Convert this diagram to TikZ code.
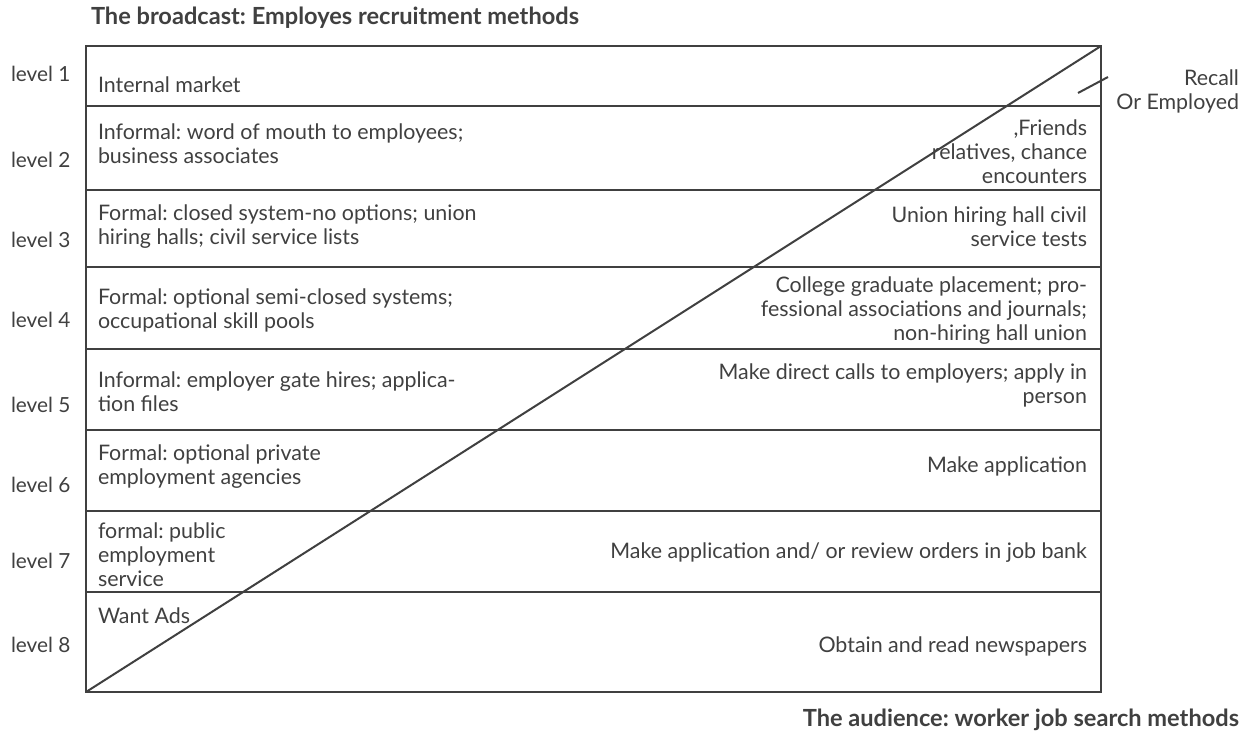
\documentclass[tikz,border=0pt]{standalone}
\usepackage{fontspec}
\setmainfont{Lato}
\definecolor{ink}{HTML}{404040}
\tikzset{
  lvl/.style={anchor=west, inner sep=0pt, font=\fontsize{10.4}{12}\selectfont},
  lefttxt/.style={anchor=west, align=left, inner sep=0pt, font=\fontsize{10.7}{12}\selectfont},
  righttxt/.style={anchor=east, align=right, inner sep=0pt, font=\fontsize{10.7}{12}\selectfont},
  heading/.style={inner sep=0pt, font=\bfseries\fontsize{11.8}{12}\selectfont}
}
\begin{document}
\frenchspacing
\begin{tikzpicture}
    [x=0.5pt,y=-0.5pt,color=ink,line width=1pt]
    \useasboundingbox (0,0) rectangle (1253,735);

    % headings:
    \node (top) at (90,18) [heading,anchor=west] {The broadcast: Employes recruitment methods};
    \node (bottom) at (1240,720) [heading,anchor=east] {The audience: worker job search methods};

    % box and rows:
    \coordinate (bl) at (86,692);
    \coordinate (tr) at (1101,46);
    \draw (86,46) rectangle (1101,692);
    \foreach \y in {106,190,267,349,430,511,592}
      \draw (86,\y) -- (1101,\y);
    \draw (bl) -- (tr);

    % levels:
    \node (l1) at (10,74) [lvl] {level 1};
    \node (l2) at (10,160) [lvl] {level 2};
    \node (l3) at (10,240) [lvl] {level 3};
    \node (l4) at (10,320) [lvl] {level 4};
    \node (l5) at (10,405) [lvl] {level 5};
    \node (l6) at (10,485) [lvl] {level 6};
    \node (l7) at (10,561) [lvl] {level 7};
    \node (l8) at (10,645) [lvl] {level 8};

    % recruitment methods:
    \node (e1) at (97,85) [lefttxt] {Internal market};
    \node (e2) at (97,144) [lefttxt] {Informal: word of mouth to employees;\\business associates};
    \node (e3) at (97,227) [lefttxt] {Formal: closed system-no options; union\\hiring halls; civil service lists};
    \node (e4) at (97,310) [lefttxt] {Formal: optional semi-closed systems;\\occupational skill pools};
    \node (e5) at (97,392) [lefttxt] {Informal: employer gate hires; applica-\\tion files};
    \node (e6) at (97,467) [lefttxt] {Formal: optional private\\employment agencies};
    \node (e7) at (97,555) [lefttxt] {formal: public\\employment\\service};
    \node (e8) at (97,616) [lefttxt] {Want Ads};

    % search methods:
    \node (w2) at (1088,152) [righttxt] {,Friends\\relatives, chance\\encounters};
    \node (w3) at (1088,227) [righttxt] {Union hiring hall civil\\service tests};
    \node (w4) at (1088,311) [righttxt] {College graduate placement; pro-\\fessional associations and journals;\\non-hiring hall union};
    \node (w5) at (1088,385) [righttxt] {Make direct calls to employers; apply in\\person};
    \node (w6) at (1088,466) [righttxt] {Make application};
    \node (w7) at (1088,553) [righttxt] {Make application and/ or review orders in job bank};
    \node (w8) at (1088,646) [righttxt] {Obtain and read newspapers};

    % recall:
    \node (recall) at (1240,91) [righttxt] {Recall\\Or Employed};
    \coordinate (ra) at (1078,93);
    \coordinate (rb) at (1108,77);
    \draw (ra) -- (rb);

  \end{tikzpicture}
\end{document}
